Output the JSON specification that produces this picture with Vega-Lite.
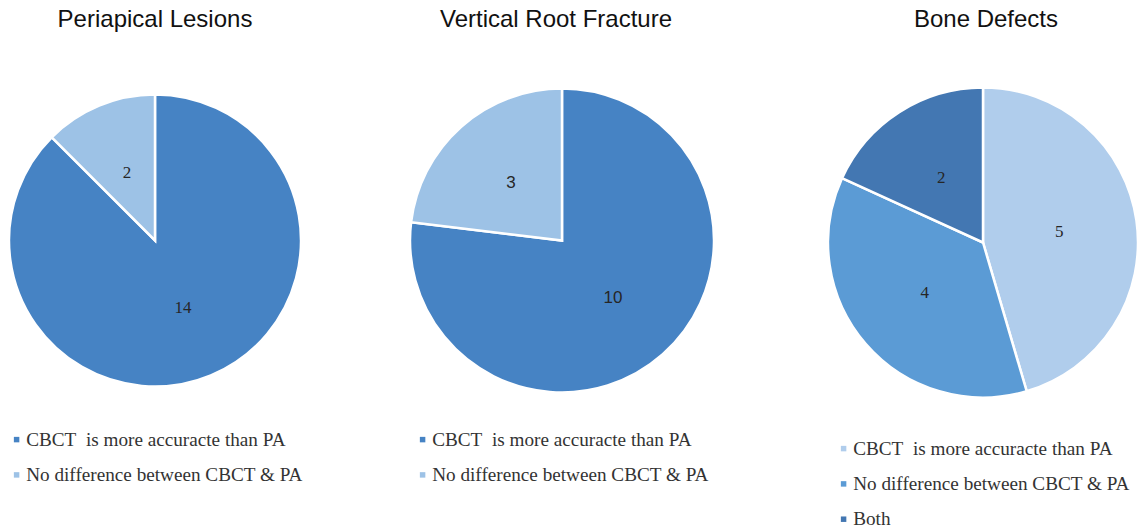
{
  "$schema": "https://vega.github.io/schema/vega-lite/v6.json",
  "padding": {"top": 8, "left": 0, "right": 0, "bottom": 0},
  "bounds": "flush",
  "spacing": 0,
  "background": "white",
  "datasets": {
    "pl": [
      {"category": "CBCT\u00a0 is more accuracte than PA", "count": 14, "idx": 1},
      {"category": "No difference between CBCT & PA", "count": 2, "idx": 2}
    ],
    "vrf": [
      {"category": "CBCT\u00a0 is more accuracte than PA", "count": 10, "idx": 1},
      {"category": "No difference between CBCT & PA", "count": 3, "idx": 2}
    ],
    "bd": [
      {"category": "CBCT\u00a0 is more accuracte than PA", "count": 5, "idx": 1},
      {"category": "No difference between CBCT & PA", "count": 4, "idx": 2},
      {"category": "Both", "count": 2, "idx": 3}
    ]
  },
  "hconcat": [
    {
      "width": 310,
      "height": 393,
      "title": {"text": "Periapical Lesions", "dx": 0},
      "data": {"name": "pl"},
      "encoding": {
        "theta": {"field": "count", "type": "quantitative", "stack": true},
        "order": {"field": "idx", "type": "quantitative"}
      },
      "layer": [
        {
          "mark": {"type": "arc", "outerRadius": 146, "stroke": "white", "strokeWidth": 2.5},
          "encoding": {
            "color": {
              "field": "category", "type": "nominal",
              "scale": {"domain": ["CBCT\u00a0 is more accuracte than PA", "No difference between CBCT & PA"], "range": ["#4683C4", "#9DC2E6"]},
              "legend": {"orient": "none", "legendX": 7, "legendY": 386}
            }
          }
        },
        {
          "mark": {"type": "text", "radius": 73, "font": "Liberation Serif", "fontSize": 17, "fill": "#262626"},
          "encoding": {
            "detail": {"field": "category"},
            "text": {"field": "count", "type": "quantitative"}
          }
        }
      ]
    },
    {
      "width": 504,
      "height": 393,
      "title": {"text": "Vertical Root Fracture", "dx": -6},
      "data": {"name": "vrf"},
      "encoding": {
        "theta": {"field": "count", "type": "quantitative", "stack": true},
        "order": {"field": "idx", "type": "quantitative"}
      },
      "layer": [
        {
          "mark": {"type": "arc", "outerRadius": 152, "stroke": "white", "strokeWidth": 2.5},
          "encoding": {
            "color": {
              "field": "category", "type": "nominal",
              "scale": {"domain": ["CBCT\u00a0 is more accuracte than PA", "No difference between CBCT & PA"], "range": ["#4683C4", "#9DC2E6"]},
              "legend": {"orient": "none", "legendX": 103, "legendY": 386}
            }
          }
        },
        {
          "mark": {"type": "text", "radius": 77, "font": "Liberation Sans", "fontSize": 17, "fill": "#262626"},
          "encoding": {
            "detail": {"field": "category"},
            "text": {"field": "count", "type": "quantitative"}
          }
        }
      ]
    },
    {
      "width": 338,
      "height": 397,
      "title": {"text": "Bone Defects", "dx": 3},
      "data": {"name": "bd"},
      "encoding": {
        "theta": {"field": "count", "type": "quantitative", "stack": true},
        "order": {"field": "idx", "type": "quantitative"}
      },
      "layer": [
        {
          "mark": {"type": "arc", "outerRadius": 155, "stroke": "white", "strokeWidth": 2.5},
          "encoding": {
            "color": {
              "field": "category", "type": "nominal",
              "scale": {"domain": ["CBCT\u00a0 is more accuracte than PA", "No difference between CBCT & PA", "Both"], "range": ["#B0CDEC", "#5B9BD5", "#4377B2"]},
              "legend": {"orient": "none", "legendX": 20, "legendY": 395}
            }
          }
        },
        {
          "mark": {"type": "text", "radius": 77, "font": "Liberation Serif", "fontSize": 17, "fill": "#262626"},
          "encoding": {
            "detail": {"field": "category"},
            "text": {"field": "count", "type": "quantitative"}
          }
        }
      ]
    }
  ],
  "resolve": {"scale": {"color": "independent", "theta": "independent"}, "legend": {"color": "independent"}},
  "config": {
    "view": {"stroke": null},
    "title": {"font": "Liberation Sans", "fontSize": 24, "fontWeight": "normal", "color": "#111111", "baseline": "alphabetic", "offset": 12, "anchor": "middle"},
    "legend": {
      "title": null,
      "padding": 0,
      "symbolType": "square",
      "symbolSize": 30,
      "symbolStrokeWidth": 0,
      "labelFont": "Liberation Serif",
      "labelFontSize": 19.2,
      "labelColor": "#333333",
      "labelOffset": 0,
      "labelLimit": 400,
      "rowPadding": 15.3
    }
  }
}
